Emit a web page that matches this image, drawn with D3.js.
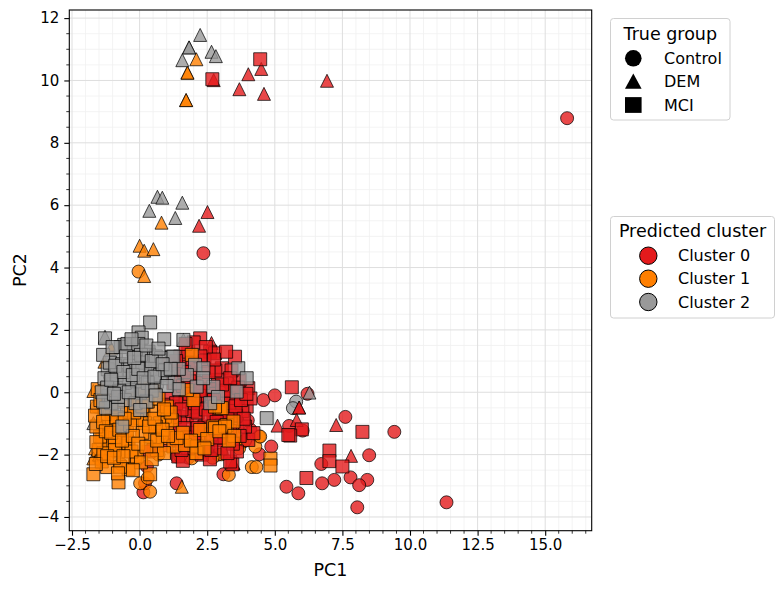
<!DOCTYPE html>
<html><head><meta charset="utf-8">
<script src="https://cdn.jsdelivr.net/npm/d3@7"></script>
<style>body{margin:0;background:#fff} text{font-family:"DejaVu Sans",sans-serif;fill:#000}</style>
</head><body><svg id="c" width="784" height="590"></svg>
<script>
const xTicks=[-2.5,0,2.5,5,7.5,10,12.5,15];
const yTicks=[-4,-2,0,2,4,6,8,10,12];
const groups=["Control","DEM","MCI"];
const clusters=["Cluster 0","Cluster 1","Cluster 2"];
const clusterColors=["#e41a1c","#ff7f00","#999999"];

// Cluster 0 (red)
const c0Control=[[15.81,8.79],[2.36,4.46],[6.21,-0.05],[7.61,-0.79],[6.03,-1.23],[5.53,-1.08],[9.42,-1.27],[8.49,-2.02],[6.72,-2.30],[7.20,-2.81],[7.80,-2.73],[8.42,-2.81],[8.12,-2.98],[6.75,-2.92],[5.43,-3.03],[5.87,-3.24],[8.05,-3.69],[11.35,-3.53],[4.58,-0.25],[5.00,-0.10],[4.87,-1.74],[4.43,-1.99],[3.10,-2.63],[1.37,-2.92],[0.14,-3.21],[0.27,-2.38],[1.37,-2.06],[0.20,-2.92],[3.80,-1.60],[4.10,-1.20],[2.90,-2.00],[2.50,-1.90],[1.80,-2.10],[3.60,-0.60],[4.00,-0.90],[1.20,-1.50],[2.00,-0.50],[3.30,0.30]];
const c0Dem=[[2.74,10.01],[4.02,10.20],[4.50,10.37],[3.69,9.72],[4.60,9.57],[6.93,9.99],[2.51,5.78],[2.20,5.34],[5.90,-0.49],[5.90,-0.49],[7.27,-1.05],[5.81,-0.89],[7.82,-2.04],[5.10,-1.07],[3.47,-2.28],[3.47,-2.28],[3.20,-1.30],[1.90,0.90],[2.60,-0.90],[2.66,1.58]];
const c0Mci=[[4.46,10.68],[2.69,10.04],[5.63,0.16],[6.00,-1.19],[5.57,-1.39],[8.24,-1.27],[7.02,-1.87],[7.02,-2.21],[7.50,-2.38],[6.17,-2.75],[5.50,-1.37],[3.43,-2.31],
[2.24,1.73],[2.61,1.30],[2.79,1.25],[3.04,0.77],[3.53,1.14],[4.02,0.13],[3.96,-0.46],[3.41,0.07],[1.50,1.14],[1.50,0.82],[1.25,0.29],[1.50,-0.14],[0.51,-1.85],[1.43,-2.06],[2.48,-1.85],[3.35,-2.22],[2.24,-1.42],[2.85,-1.53],[4.02,-1.53],[4.21,-1.31],[1.25,-0.46],[2.24,-0.46],[1.75,-0.78],[2.73,-0.67],[3.47,-0.30],[0.33,-1.90],
[1.10,0.90],[1.80,1.30],[2.00,0.60],[2.40,1.00],[2.90,0.40],[3.20,1.30],[3.70,0.40],[3.30,-0.20],[2.60,0.10],[2.00,0.20],[1.70,-0.30],[2.10,-0.90],[2.50,-0.30],[3.00,-0.90],[3.60,-1.00],[3.80,-0.60],[3.30,-0.60],[2.80,-1.20],[1.90,-1.30],[1.50,-1.00],[1.20,-1.30],[1.00,-0.20],[2.30,-2.00],[1.80,-1.80],[3.00,-1.80],[3.60,-1.90],[1.60,-2.20],[2.60,-2.15],[3.90,-1.10],[4.10,-0.20],[1.40,0.50],[2.20,-0.10],[2.80,0.70],[3.40,0.70],[1.60,0.20],[3.70,-1.40],[2.40,-1.10],[1.30,-0.80],[3.10,-0.35],[2.00,1.60],[1.70,1.55],[2.45,1.45],[0.90,-0.40],[1.00,-1.70],[2.70,-0.05],[3.15,0.05],[1.85,0.35],[2.35,0.30],[1.95,-0.60],[3.55,-0.75],
[1.35,-0.35],[1.55,-0.55],[1.65,-1.15],[1.85,-0.05],[2.05,-0.35],[2.15,-0.65],[2.25,0.05],[2.45,-0.55],[2.55,-0.75],[2.65,-1.35],[2.75,-0.25],[2.95,-0.65],[3.05,-1.05],[3.15,-1.45],[3.25,-0.85],[3.35,-1.25],[3.45,-1.65],[3.55,-0.45],[3.65,0.15],[3.75,-0.25],[3.85,-0.85],[1.45,-1.55],[1.75,-1.45],[2.05,-1.55],[2.35,-1.75],[2.65,-1.85],[2.95,-1.45],[3.25,-1.95],[1.95,0.95],[2.25,1.15],[2.55,0.65],[2.75,1.05],[3.05,0.25],[3.35,0.45],[1.65,0.65],[1.35,1.00],[2.85,-0.95],[2.15,-1.15],[1.55,-1.85],[3.95,-0.05]];

// Cluster 1 (orange)
const c1Control=[[-0.04,3.87],[4.42,-1.42],[4.28,-1.74],[4.15,-2.40],[4.32,-2.40],[3.30,-2.65],[3.04,-1.99],[3.51,-1.64],[3.68,-1.80],[4.46,-1.42],[1.93,-2.12],[0.02,-2.92],[0.39,-3.19],[-1.46,-2.17],[-0.70,-2.30],[1.50,-2.05],[2.70,-2.10],[-1.20,-1.80],[0.70,-2.00],[3.90,-1.55],[0.30,-2.75]];
const c1Dem=[[2.10,10.68],[1.77,10.25],[1.77,10.25],[1.72,9.37],[1.72,9.37],[0.81,5.44],[0.00,4.70],[0.17,4.54],[0.51,4.59],[0.17,3.73],[-1.71,0.04],[-1.05,1.41],[-1.30,0.98],[-1.65,-1.80],[-1.71,-2.12],[1.56,-3.03],[3.10,-0.14],[-1.50,-2.00]];
const c1Mci=[[4.84,-2.13],[4.84,-2.35],[-1.71,-2.63],[-0.78,-2.89],[0.39,-2.63],[-0.41,-2.46],[-0.17,-2.10],[-1.15,-1.10],[-1.38,-1.42],[-0.47,-1.58],[0.82,-1.47],[0.02,-0.83],[-1.03,-0.62],[-0.47,-0.67],[0.43,-0.62],[1.01,-1.05],[0.94,-0.78],[-0.78,-1.90],[-1.52,-1.85],[-1.40,-2.22],[-1.15,-1.67],[-0.97,-1.69],[-0.47,-1.31],[0.20,-0.99],[-1.58,-0.46],[-1.09,-0.19],[-1.03,-0.89],[-0.47,-0.46],[-0.91,-1.47],[-0.41,-1.64],[0.39,-1.42],[0.76,-0.99],[1.01,-0.46],[0.51,0.07],[0.14,-0.57],[1.25,-1.74],[1.68,-1.69],[2.11,-1.74],[2.24,-1.21],[2.73,-1.10],[3.22,-1.05],[3.47,-0.94],[2.98,-0.51],[1.99,-0.25],[1.75,0.07],[1.93,1.20],[-1.34,-1.96],[-1.46,-1.42],[-0.91,-1.85],[-0.10,-2.06],[-0.72,-2.39],[0.64,-1.85],[-0.10,-0.89],[2.79,-1.15],[3.16,-1.10],[1.37,-1.47],[3.04,-0.51],[2.79,-0.46],[-1.30,-0.70],[-0.80,-0.30],[-0.20,-0.20],[0.30,-0.30],[0.70,-0.20],[-0.60,-1.00],[0.10,-1.30],[0.60,-1.10],[1.20,-0.90],[-1.60,-1.10],[-0.30,-1.90],[0.90,-1.95],[-1.20,-2.40],[2.50,-1.50],[3.50,-1.40],[-1.55,0.10],[-0.95,0.05],[0.15,0.15],[2.10,-1.95],
[-1.65,-0.75],[-1.60,-1.60],[-1.62,-2.30],[-1.35,-0.95],[-1.25,-1.25],[-1.20,-2.05],[-1.05,-1.30],[-0.95,-2.10],[-0.85,-0.80],[-0.75,-1.20],[-0.65,-1.55],[-0.60,-2.05],[-0.35,-1.05],[-0.25,-1.40],[-0.20,-0.65],[-0.05,-1.65],[0.05,-2.25],[0.10,-0.45],[0.25,-1.75],[0.35,-1.10],[0.45,-2.15],[0.55,-0.85],[0.65,-1.55],[0.85,-1.20],[1.05,-1.40],[1.15,-0.65],[-1.45,-0.25],[-0.80,-2.60],[-0.25,-2.50],[1.60,-1.30],[1.90,-1.55],[2.40,-1.80],[2.95,-1.25],[3.30,-1.55],[0.90,-0.55],[-0.55,-0.85]];

// Cluster 2 (gray)
const c2Control=[[5.79,-0.30],[5.67,-0.51],[-1.58,-0.46],[-1.10,0.50],[0.30,1.00]];
const c2Dem=[[2.24,11.46],[1.83,11.06],[1.83,11.06],[2.66,10.92],[2.82,10.78],[1.58,10.65],[0.66,6.27],[0.84,6.24],[1.58,6.08],[0.36,5.82],[1.32,5.59],[6.28,-0.01],[-1.28,1.78],[-1.71,-0.99],[1.62,1.68]];
const c2Mci=[[0.39,2.24],[-1.28,1.73],[-0.04,1.92],[0.08,1.75],[0.91,1.70],[-0.57,1.52],[-0.88,1.11],[0.33,1.30],[-0.23,1.36],[1.19,1.14],[-1.18,0.74],[-0.17,0.98],[0.57,0.88],[0.94,0.68],[-0.97,0.26],[-0.41,0.45],[0.20,0.66],[0.02,-0.01],[-1.15,-0.12],[0.64,0.34],[-0.29,0.07],
[-0.70,1.45],[-0.45,1.55],[-0.05,1.55],[0.35,1.20],[0.60,1.15],[0.80,1.10],[-1.10,0.95],[-0.65,0.90],[-0.35,0.85],[0.10,0.95],[0.40,0.75],[0.75,0.55],[1.05,0.45],[-1.30,0.45],[-0.85,0.55],[-0.55,0.30],[-0.10,0.35],[0.30,0.30],[-1.20,0.15],[-0.75,0.05],[0.45,0.05],[-1.05,-0.35],[-0.55,-0.25],[-0.15,-0.35],[0.25,-0.30],[-1.25,-0.50],[-0.80,-0.55],[-0.64,-1.10],[0.02,-0.57],
[1.62,1.68],[2.05,0.88],[1.75,0.55],[2.11,0.18],[2.36,0.77],[2.73,0.18],[3.59,0.02],[2.61,-0.35],[3.65,0.77],[3.96,0.45],[1.25,1.14],[0.94,0.71],[4.70,-0.83],[1.45,0.75],[2.35,0.45],[2.90,-0.15],[1.30,0.30],[1.45,0.10],
[-1.35,1.20],[-1.40,0.00],[-1.35,-0.30],[-1.00,1.45],[-0.90,0.85],[-0.80,-0.15],[-0.60,0.65],[-0.50,1.15],[-0.30,1.70],[-0.25,0.55],[-0.05,0.75],[0.05,1.20],[0.15,0.45],[0.25,1.50],[0.45,1.00],[0.55,0.50],[0.70,1.40],[0.85,0.90],[1.00,0.20],[1.15,0.75],[-0.95,-0.05],[-0.40,0.00],[0.10,0.05],[0.60,-0.10],[-1.05,0.40],[-0.20,1.10]];

const W=784,H=590;
const L=69.3,R=591.7,T=10,B=530.7;
const x=d3.scaleLinear().domain([-2.6,16.72]).range([L,R]);
const y=d3.scaleLinear().domain([-4.44,12.26]).range([B,T]);
const svg=d3.select("#c");

// grids
const xMinor=d3.range(-2.5,16.6,0.5).filter(v=>!xTicks.includes(v));
const yMinor=d3.range(-4,12.1,0.5).filter(v=>!yTicks.includes(v));
const g=svg.append("g");
g.selectAll(".xm").data(xMinor).join("line").attr("x1",d=>x(d)).attr("x2",d=>x(d)).attr("y1",T).attr("y2",B).attr("stroke","#f0f0f0").attr("stroke-width",0.8);
g.selectAll(".ym").data(yMinor).join("line").attr("y1",d=>y(d)).attr("y2",d=>y(d)).attr("x1",L).attr("x2",R).attr("stroke","#f0f0f0").attr("stroke-width",0.8);
g.selectAll(".xM").data(xTicks).join("line").attr("x1",d=>x(d)).attr("x2",d=>x(d)).attr("y1",T).attr("y2",B).attr("stroke","#dedede").attr("stroke-width",1);
g.selectAll(".yM").data(yTicks).join("line").attr("y1",d=>y(d)).attr("y2",d=>y(d)).attr("x1",L).attr("x2",R).attr("stroke","#dedede").attr("stroke-width",1);

// points
const S=13,h=S/2;
const layers=[
 ["Control",0,c0Control],["Control",1,c1Control],["Control",2,c2Control],
 ["DEM",0,c0Dem],["DEM",1,c1Dem],["DEM",2,c2Dem],
 ["MCI",0,c0Mci],["MCI",1,c1Mci],["MCI",2,c2Mci]];
const pts=svg.append("g");
layers.forEach(([grp,ci,arr])=>{
  pts.append("g").selectAll("path").data(arr).join("path")
    .attr("transform",d=>`translate(${x(d[0])},${y(d[1])})`)
    .attr("d",grp==="Control"?`M${h},0A${h},${h},0,1,1,${-h},0A${h},${h},0,1,1,${h},0Z`
          :grp==="DEM"?`M0,${-h}L${h},${h}L${-h},${h}Z`
          :`M${-h},${-h}H${h}V${h}H${-h}Z`)
    .attr("fill",clusterColors[ci]).attr("fill-opacity",0.8)
    .attr("stroke","#000").attr("stroke-opacity",0.8).attr("stroke-width",0.9);
});

// frame
svg.append("rect").attr("x",L).attr("y",T).attr("width",R-L).attr("height",B-T).attr("fill","none").attr("stroke","#000").attr("stroke-width",1.1);

// axes
const fmtX=d3.format(".1f");
const ax=svg.append("g").attr("transform",`translate(0,${B})`).call(d3.axisBottom(x).tickValues(xTicks).tickFormat(fmtX).tickSize(5).tickPadding(4));
const ay=svg.append("g").attr("transform",`translate(${L},0)`).call(d3.axisLeft(y).tickValues(yTicks).tickFormat(d3.format("d")).tickSize(5).tickPadding(5));
[ax,ay].forEach(a=>{a.select(".domain").remove();a.selectAll("text").attr("font-size",15).attr("font-family","DejaVu Sans");a.selectAll("line").attr("stroke-width",1.1);});
svg.append("g").selectAll("line").data(xMinor.filter(v=>v>=-2.6&&v<=16.7)).join("line").attr("x1",d=>x(d)).attr("x2",d=>x(d)).attr("y1",B).attr("y2",B+3).attr("stroke","#000").attr("stroke-width",0.8);
svg.append("g").selectAll("line").data(yMinor).join("line").attr("y1",d=>y(d)).attr("y2",d=>y(d)).attr("x1",L).attr("x2",L-3).attr("stroke","#000").attr("stroke-width",0.8);

svg.append("text").attr("x",(L+R)/2).attr("y",576).attr("text-anchor","middle").attr("font-size",17.5).text("PC1");
svg.append("text").attr("transform","translate(26,270) rotate(-90)").attr("text-anchor","middle").attr("font-size",17.5).text("PC2");

// legend 1
const l1=svg.append("g");
l1.append("rect").attr("x",610.5).attr("y",18.5).attr("width",119.5).attr("height",101.5).attr("rx",3).attr("fill","#fff").attr("stroke","#d0d0d0");
l1.append("text").attr("x",670.3).attr("y",39.5).attr("text-anchor","middle").attr("font-size",17.5).text("True group");
const ms=8.3;
groups.forEach((gname,i)=>{
  const cy=[58.3,81.7,105][i], cx=633.3;
  const d=gname==="Control"?`M${ms},0A${ms},${ms},0,1,1,${-ms},0A${ms},${ms},0,1,1,${ms},0Z`
     :gname==="DEM"?`M0,${-ms}L${ms},${ms*0.85}L${-ms},${ms*0.85}Z`
     :`M${-ms},${-ms*0.95}H${ms}V${ms*0.95}H${-ms}Z`;
  l1.append("path").attr("transform",`translate(${cx},${cy})`).attr("d",d).attr("fill","#000");
  l1.append("text").attr("x",664).attr("y",cy).attr("dy","0.36em").attr("font-size",16).text(gname);
});
// legend 2
const l2=svg.append("g");
l2.append("rect").attr("x",610.5).attr("y",216.5).attr("width",164).attr("height",101.5).attr("rx",3).attr("fill","#fff").attr("stroke","#d0d0d0");
l2.append("text").attr("x",692.5).attr("y",237).attr("text-anchor","middle").attr("font-size",17.5).text("Predicted cluster");
clusters.forEach((c,i)=>{
  const cy=[255.7,278.7,302][i];
  l2.append("circle").attr("cx",648.3).attr("cy",cy).attr("r",8.7).attr("fill",clusterColors[i]).attr("stroke","#000").attr("stroke-width",1);
  l2.append("text").attr("x",678).attr("y",cy).attr("dy","0.36em").attr("font-size",16).text(c);
});
</script></body></html>
